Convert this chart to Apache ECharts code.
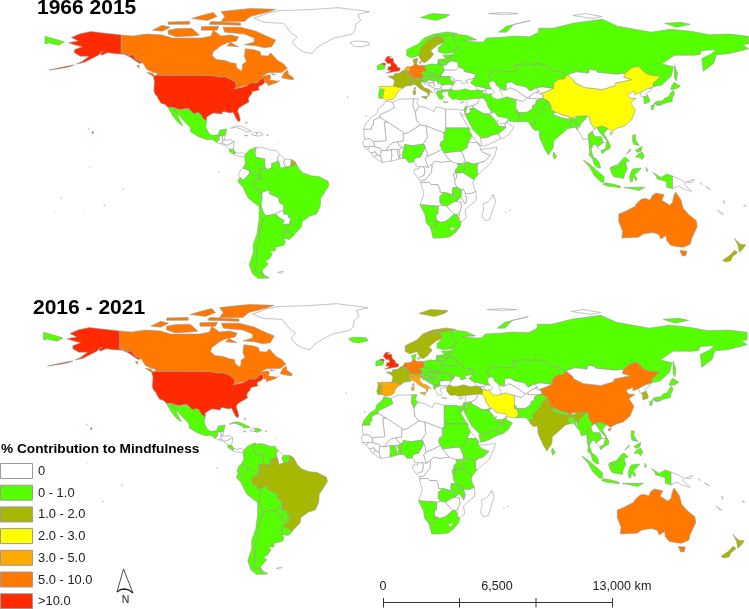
<!DOCTYPE html>
<html><head><meta charset="utf-8">
<style>html,body{margin:0;padding:0;background:#fff}#c{width:749px;height:609px}</style>
<script src="https://cdn.jsdelivr.net/npm/echarts@6/dist/echarts.min.js"></script>
</head><body><div id="c"></div>
<script>
// Contribution classes (class mid-values, %)
const countryNames=["United States","Canada","Mexico","Greenland","Iceland","Guatemala","Belize","Honduras","El Salvador","Nicaragua","Costa Rica","Panama","Cuba","Haiti","Dominican Rep.","Colombia","Venezuela","Guyana","Suriname","French Guiana","Ecuador","Peru","Brazil","Uruguay","Bolivia","Paraguay","Chile","Argentina","Falklands",
"Morocco","Algeria","Tunisia","Libya","Egypt","Sudan","South Sudan","Eritrea","Ethiopia","Somalia","Kenya","Uganda","Tanzania","Rwanda","DR Congo","Angola","Zambia","Malawi","Mozambique","Zimbabwe","Botswana","Namibia","South Africa","Lesotho","Madagascar","Gabon","Congo","Cameroon","CAR","Chad","Niger","Nigeria","Benin","Togo","Ghana","Ivory Coast","Burkina Faso","Mali","Mauritania","Senegal","Guinea","Guinea-Bissau","Sierra Leone","Liberia",
"Turkey","Syria","Israel","Jordan","Iraq","Iran","Saudi Arabia","Yemen","Oman","UAE","Qatar","Kuwait",
"Spain","Portugal","France","Belgium","Netherlands","Germany","Switzerland","Austria","Italy","United Kingdom","Ireland","Denmark","Norway","Sweden","Finland","Russia","Kazakhstan","Uzbekistan","Turkmenistan","Kyrgyzstan","Tajikistan","Afghanistan","Pakistan","India","Nepal","Bangladesh","Sri Lanka","Myanmar","Thailand","Laos","Cambodia","Vietnam","China","Mongolia","North Korea","South Korea","Japan","Philippines","Malaysia","Indonesia","Papua New Guinea","Australia","New Zealand","Poland","Lithuania","Latvia","Estonia","Belarus","Ukraine","Moldova","Romania","Bulgaria","Slovakia","Czechia","Hungary","Slovenia","Croatia","Bosnia","Serbia","Albania","Macedonia","Greece","Cyprus","Georgia","Armenia","Azerbaijan","Small islands"];
const values1966to2015=[15,7,.5,0,0,0,0,0,0,0,.5,0,0,0,0,.5,0,0,0,1.5,0,.5,.5,.5,0,0,.5,.5,0,
0,0,0,0,0,.5,0,0,0,0,.5,.5,0,0,0,0,.5,0,0,0,0,.5,.5,0,0,0,0,0,0,0,0,.5,0,0,0,0,0,0,0,0,0,0,0,0,
.5,0,.5,0,0,.5,.5,0,0,0,0,0,
2.5,.5,1.5,1.5,4,7,1.5,.5,1.5,15,.5,1.5,.5,1.5,.5,.5,.5,0,0,0,0,0,.5,.5,0,.5,.5,0,.5,0,0,.5,2.5,0,0,.5,.5,.5,.5,.5,0,7,1.5,.5,.5,.5,.5,0,0,0,.5,0,.5,.5,.5,.5,0,0,0,0,0,.5,0,0,0,0,0];
const values2016to2021=[15,7,.5,0,.5,0,0,0,0,0,.5,0,.5,0,.5,.5,.5,0,.5,1.5,.5,.5,1.5,.5,.5,.5,.5,.5,0,
.5,0,.5,0,.5,.5,0,0,.5,0,.5,.5,.5,.5,0,0,.5,.5,0,0,0,.5,.5,0,0,0,0,0,0,0,0,.5,.5,0,.5,0,0,0,0,0,0,0,0,0,
1.5,0,.5,.5,0,2.5,.5,.5,.5,.5,.5,.5,
4,1.5,1.5,1.5,7,7,4,.5,4,15,.5,.5,1.5,1.5,.5,.5,.5,0,0,0,0,0,.5,1.5,.5,.5,.5,.5,.5,0,0,.5,7,0,0,1.5,.5,.5,.5,.5,0,7,1.5,.5,.5,.5,.5,.5,.5,.5,.5,0,.5,.5,.5,.5,.5,.5,.5,.5,.5,0,0,0,0,0,0];
const panelTitles=["1966 2015","2016 - 2021"];
const legendTitle="% Contribution to Mindfulness";
const legendLabels=["0","0 - 1.0","1.0 - 2.0","2.0 - 3.0","3.0 - 5.0","5.0 - 10.0",">10.0"];
const legendColors=["#ffffff","#55ff00","#a8b800","#ffff00","#ffaa00","#ff7800","#ff2a00"];
const classBreaks=[0,1,2,3,5,10];
const scaleLabels=["0","6,500","13,000 km"];

// Simplified country outlines, "lon,lat" rings
const outlines={
"United States":["-124.7,48.4 -123,49 -95,49 -94.6,48.7 -92,48.3 -89.5,48 -88.4,48.3 -84.8,46.9 -83.5,46 -82.5,45.3 -82.1,43.6 -82.5,42.6 -83.1,42 -79,42.8 -79,43.3 -76.8,43.6 -75,45 -71.5,45 -70.3,46.2 -69.2,47.4 -67.8,47 -67.5,45.2 -67,44.8 -69,44 -70.5,43.3 -70.8,42.2 -70,41.7 -72,41 -74,40.6 -74.2,39.5 -75.5,38 -76,36.9 -75.6,35.3 -77,34.5 -79,33.4 -81,32 -81.4,30.5 -80.5,28 -80.1,26 -80.8,25.1 -81.8,26 -82.8,28 -83.8,30 -85.5,29.7 -88,30.3 -89.5,30.2 -89.3,29.1 -91,29.3 -93.8,29.7 -95.5,28.8 -97.3,27.5 -97.2,25.9 -99.1,26.4 -99.5,27.5 -101,29.5 -102.5,29.8 -103.2,29 -104.5,29.7 -106.5,31.8 -108.2,31.8 -108.2,31.3 -111,31.3 -114.8,32.5 -117.1,32.5 -118.5,34 -120.6,34.6 -122,36.8 -122.5,38 -123.8,39.5 -124.3,41 -124.2,43 -124,46",
"-141,69.6 -141,60.3 -139,60 -137,59 -135,59.5 -133.5,57 -130,55.3 -131.5,55 -134,56.5 -136,58 -139.5,59.7 -144,60 -148,60.5 -151,59.2 -152,60.8 -150,61.2 -153,59 -156,57.5 -160,55.5 -164,54.7 -161,56 -157.5,58.7 -162,58.7 -165,60.5 -165,62 -161,63.5 -165,64.5 -168,65.6 -163,66.5 -166.5,68.3 -162,70.2 -156.5,71.3 -150,70.5",
"-155.8,19.1 -155,19.6 -155.7,20.2 -156,19.6","-165,54.3 -167,53.4 -172,52.4 -178,51.6 -172,52.9"],
"Canada":["-141,69.6 -135,69 -128,70 -120,69.5 -115,68 -108,68 -100,68 -95,69 -94,72 -90,69 -85,69.5 -81,68.5 -82,66.5 -87,65.5 -90,64 -94,61 -94.5,59 -92.5,57 -88,56.5 -85,55.3 -82.3,55 -82,53 -80,51.2 -79,52 -79,54.5 -77,56 -78,58.7 -77.5,62.5 -73,62 -70,61 -69.5,59 -66,58.8 -64.5,60.3 -61,56.5 -58,54.8 -56,52.5 -59,50.3 -66,50.2 -69,48.5 -65,49.2 -64.5,48 -65,46.5 -61,46 -61,45.3 -66,43.6 -66,45 -67,44.8 -67.5,45.2 -67.8,47 -69.2,47.4 -70.3,46.2 -71.5,45 -75,45 -76.8,43.6 -79,43.3 -79,42.8 -83.1,42 -82.5,42.6 -82.1,43.6 -82.5,45.3 -83.5,46 -84.8,46.9 -88.4,48.3 -89.5,48 -92,48.3 -94.6,48.7 -95,49 -123,49 -122.5,50 -125,50.5 -128,52 -130,55.3 -133.5,57 -135,59.5 -137,59 -139,60 -141,60.3",
"-59,47.7 -55.5,46.9 -53,46.7 -52.8,47.6 -55.5,49.5 -55.8,51.5 -57.5,50.5","-80,73.5 -72,71.5 -68,69.5 -62,67 -64,63.5 -68,63 -72,64 -78,64.5 -73,66 -73,68 -78,70 -88,71 -89,73.5","-117,70 -113,68.7 -105,69 -101,69.5 -105,73 -113,72.8 -117,72","-125,72 -120,71.5 -116,73.5 -120,74.5","-90,76.5 -78,76.5 -75,79 -65,81.5 -62,82.7 -75,83.1 -90,81.5 -88,79","-96,75 -80,74.5 -80,75.7 -95,76.5","-117,75 -106,75 -106,76.5 -117,76.2","-100,72 -92,72 -91,74 -100,73.8","-87,64 -81,63.5 -85,65.7","-105,78 -97,77 -92,79 -94,81 -100,79.5","-128,50.5 -125,48.6 -123.5,48.4 -125,50","-64,49.8 -62,49.2 -64,49.3","-133,54 -131.7,54 -132,52.5"],
"Mexico":["-117.1,32.5 -114.8,32.5 -111,31.3 -108.2,31.3 -108.2,31.8 -106.5,31.8 -104.5,29.7 -103.2,29 -102.5,29.8 -101,29.5 -99.5,27.5 -99.1,26.4 -97.2,25.9 -97.8,22.5 -96,19 -94.5,18.2 -91.5,18.5 -90.5,21 -87,21.5 -87.8,18.3 -89.1,17.9 -91,17.8 -90.8,16 -92.2,14.6 -94.5,16.2 -97,15.9 -101.5,17.5 -105.5,20 -105.5,22 -109,25.7 -112.5,29.5 -114.7,31.6 -113,31 -111.5,27 -110,24 -109.5,23 -112,24.8 -114.5,28"],
"Greenland":["-73,78.2 -68,76 -58,75.5 -54,70.5 -51,68.5 -53.5,66 -51,63 -48,61 -43.5,60 -41,63 -37,65.5 -32,68 -23,70 -21.5,72 -21,75 -18.5,77 -20,80 -14,81.5 -30,83.5 -45,82.5 -60,82 -65,81"],
"Iceland":["-24,65.5 -22,63.9 -18.7,63.4 -14,64.5 -14.8,66 -18,66.3 -22,66.4"],
"Guatemala":["-92.2,14.6 -90.8,16 -91,17.8 -89.1,17.9 -89.2,15.9 -88.2,15.7 -89.3,14.5 -90.5,13.9"],
"Belize":["-89.1,17.9 -87.8,18.3 -88.2,15.9 -89.2,15.9"],
"Honduras":["-89.2,15.9 -88.2,15.7 -85,16 -83.2,15 -85,14 -87,13 -87.8,13.4 -89.3,14.5"],
"El Salvador":["-90.1,13.8 -89.3,14.4 -87.8,13.4 -88.5,13.2"],
"Nicaragua":["-87.5,13 -85,14 -83.2,15 -83.7,11 -85.7,11.1"],
"Costa Rica":["-85.7,11.1 -83.7,11 -82.6,9.6 -83,8.3 -85.7,10"],
"Panama":["-83,8.3 -82.6,9.6 -81,8.9 -79.5,9.6 -77.4,8.7 -77.9,7.2 -80,7.4 -81.5,7.7"],
"Cuba":["-85,21.9 -82.5,23 -80,23 -75,20.7 -74.2,20.2 -77.5,19.9 -78,20.7 -82,22.3"],
"Haiti":["-74.4,18.5 -72,18.1 -71.7,19.7 -73,19.9"],
"Dominican Rep.":["-71.7,19.7 -72,18.1 -71,17.7 -68.4,18.6 -70,19.8"],
"Colombia":["-77.4,8.7 -75.5,10.7 -72,12.2 -71.3,11.7 -72.5,9 -72,7 -67.5,6.2 -67.5,2.5 -67,1.2 -70,1.2 -69.5,-4.2 -70.5,-3.8 -70,-2.5 -73,-2.3 -75.3,-0.1 -78.8,1.4 -77.5,4 -77.9,7.2"],
"Venezuela":["-72,12.2 -71.3,11.7 -68.5,12 -64,10.5 -61.8,10.7 -60.9,9.4 -60,8.5 -61,6.7 -60.7,5.2 -62.8,4 -64,4 -64,1.5 -66.3,0.8 -67,1.2 -67.5,2.5 -67.5,6.2 -72,7 -72.5,9"],
"Guyana":["-60,8.5 -57.2,6 -58,4.5 -57,2 -59.8,1.3 -59.9,3 -60.7,5.2 -61,6.7"],
"Suriname":["-57.2,6 -54,5.9 -54.2,3.5 -54.5,2.3 -57,2 -58,4.5"],
"French Guiana":["-54,5.9 -52,4.7 -51.7,4 -52.7,2.3 -54.5,2.3 -54.2,3.5"],
"Ecuador":["-78.8,1.4 -75.3,-0.1 -75.5,-1.5 -78.5,-4.8 -80.3,-3.4 -81,-2 -80,0.5"],
"Peru":["-75.3,-0.1 -73,-2.3 -70,-2.5 -70.5,-3.8 -69.5,-4.2 -72.8,-5 -73.7,-7.3 -72.9,-9 -70.5,-9.4 -70.6,-11 -69,-11 -69,-15 -69.4,-16 -69.5,-17.5 -70.4,-18.3 -76,-14 -79,-8 -81.3,-5.5 -81,-4.3 -80.3,-3.4 -78.5,-4.8 -75.5,-1.5"],
"Brazil":["-51.7,4 -50,1 -48,-1 -44,-2.5 -40,-2.8 -35.2,-5.3 -34.8,-7.5 -37,-11 -39,-14 -39.2,-18 -41,-22 -44.5,-23.1 -48.5,-26 -48.7,-28.5 -52,-32 -53.4,-33.7 -53.2,-32.5 -57.6,-30.2 -53.7,-27 -54.6,-25.6 -54.3,-24 -55.5,-24 -55.8,-22.3 -58,-22 -57.9,-20 -58,-17.5 -60.2,-16.3 -60.5,-13.8 -65.3,-11.7 -65.4,-9.8 -69,-11 -70.6,-11 -70.5,-9.4 -72.9,-9 -73.7,-7.3 -72.8,-5 -69.5,-4.2 -70,1.2 -67,1.2 -66.3,0.8 -64,1.5 -64,4 -62.8,4 -60.7,5.2 -59.9,3 -59.8,1.3 -57,2 -54.5,2.3 -52.7,2.3"],
"Uruguay":["-57.6,-30.2 -53.2,-32.5 -53.4,-33.7 -54.9,-35 -58,-34.5 -58.4,-33"],
"Bolivia":["-69,-11 -65.4,-9.8 -65.3,-11.7 -60.5,-13.8 -60.2,-16.3 -58,-17.5 -57.9,-20 -58.2,-20.1 -62.3,-22 -64.5,-22.5 -67,-23 -68.5,-21 -69.5,-17.5 -69.4,-16 -69,-15"],
"Paraguay":["-58.2,-20.1 -57.9,-20 -58,-22 -55.8,-22.3 -55.5,-24 -54.3,-24 -54.6,-25.6 -55,-27.3 -58.6,-27.3 -57.7,-25.3 -60,-24 -62.3,-22"],
"Chile":["-69.5,-17.5 -68.5,-21 -67,-23 -68.3,-25 -69.8,-30 -70.5,-33 -70,-36 -71.5,-39 -71.8,-44 -71.8,-48 -72.5,-51.5 -68.4,-52.4 -68.6,-54.8 -71,-55 -74,-52.5 -75.5,-48 -73.5,-42 -73.5,-37.5 -71.5,-32 -70.5,-25 -70.4,-18.3"],
"Argentina":["-67,-23 -64.5,-22.5 -62.3,-22 -60,-24 -57.7,-25.3 -58.6,-27.3 -55,-27.3 -54.6,-25.6 -53.7,-27 -57.6,-30.2 -58.4,-33 -58,-34.5 -57,-36.3 -57.7,-38 -62,-39 -62.3,-41 -65,-41 -63.7,-42.5 -65.3,-45 -67.5,-46 -65.8,-47.5 -69,-51 -68.4,-52.4 -72.5,-51.5 -71.8,-48 -71.8,-44 -71.5,-39 -70,-36 -70.5,-33 -69.8,-30 -68.3,-25","-68.6,-52.7 -65.2,-54.7 -68.6,-54.9"],
"Falklands":["-61,-51.8 -58,-51.3 -59,-52.3"],
"Morocco":["-5.9,35.8 -2.2,35.1 -1.2,32.5 -3.7,31 -8.7,28.7 -8.7,27.3 -12,26 -12,23.4 -13,23 -13,21.3 -17,21.3 -16,24 -13,27.7 -10,29.5 -9.8,31.5 -7,33.8"],
"Algeria":["-2.2,35.1 1,36.7 8.6,36.9 8.2,33 9.5,30.2 10,26 12,23.5 5.8,19.5 3.2,19 3.2,19.8 -4.8,25 -8.7,27.3 -8.7,28.7 -3.7,31 -1.2,32.5"],
"Tunisia":["8.6,36.9 11,37 10.2,34.5 11.5,33.1 10,31 9.5,30.2 8.2,33"],
"Libya":["11.5,33.1 15.3,32.3 19,30.3 20,32.8 25,31.6 25,20 24,19.5 15,23 12,23.5 10,26 9.5,30.2 10,31"],
"Egypt":["25,31.6 31,31.5 32.5,31 34.3,31.3 34.9,29.5 34,28 33,28.5 32.5,30 32.7,29 35.5,24 37,22 25,22"],
"Sudan":["24,20 25,20 25,22 37,22 37.3,20 38.5,18 36.5,14.3 36,12 33,10 31,10 27,9.5 24,9 23,11 22,13 22.5,15 24,15.7 24,19.5"],
"South Sudan":["24,9 27,9.5 31,10 33,10 34,8 35,5 33.5,3.7 31,3.7 28,4.5 24.5,8.5"],
"Eritrea":["36.5,14.3 38.5,18 43,12.7 41,14.5 37.5,14.5"],
"Ethiopia":["36,12 36.5,14.3 37.5,14.5 41,14.5 42.5,12.5 42.8,11 44,9.5 47.9,8 45,5 41.9,4 39,3.5 36,4.5 35,5 34,8 33,10"],
"Somalia":["42.8,11 43.3,11.5 51.2,12 50,8 48,4 41.6,-1.7 41,-0.8 41,3 41.9,4 45,5 47.9,8 44,9.5"],
"Kenya":["34,4.2 36,4.5 39,3.5 41.9,4 41,3 41,-0.8 41.6,-1.7 39.3,-4.6 37.7,-3.5 34,-1 33.9,0.1 35,1.9"],
"Uganda":["31,3.7 33.5,3.7 34,4.2 35,1.9 33.9,0.1 34,-1 30.5,-1 29.6,-1.4 30,1 31.3,2.2"],
"Tanzania":["30.5,-1 34,-1 37.7,-3.5 39.3,-4.6 38.8,-6.5 39.5,-8.5 40.4,-10.5 38,-11.5 34.9,-11.5 34,-9.5 33,-9.5 31,-8.6 29.6,-6.5 29.6,-4.4 30.5,-3.5"],
"Rwanda":["29,-1.4 30.5,-1 30.5,-3.5 29.6,-4.4 29,-2.7"],
"DR Congo":["12.2,-6 13,-4.7 14.5,-4.7 16,-2.7 17.7,-0.5 18,3.5 18.5,3.5 19.5,5.1 22.5,4.5 27.5,5 28,4.5 31,3.7 31.3,2.2 30,1 29.6,-1.4 29,-1.4 29,-2.7 29.6,-4.4 29.6,-6.5 31,-8.6 28.7,-8.5 28.4,-10 28.4,-12.4 29.8,-12.1 29.8,-13.4 27,-11.6 24,-11 22,-11 22,-9.5 21,-7 17.5,-7 16.5,-5.9"],
"Angola":["12.2,-6 16.5,-5.9 17.5,-7 21,-7 22,-9.5 22,-11 24,-11 22,-13 22,-16.3 23.4,-17.6 21,-18 14,-17.4 11.8,-17.3 13.6,-12.5 13.7,-11 13,-9"],
"Zambia":["22,-13 24,-11 27,-11.6 29.8,-13.4 29.8,-12.1 28.4,-12.4 28.4,-10 28.7,-8.5 31,-8.6 33,-9.5 33.2,-10.8 32.7,-13.7 30.3,-15.6 28.9,-16 26,-17.9 23.4,-17.6 22,-16.3"],
"Malawi":["33,-9.5 34,-9.5 35,-11.5 35.8,-14.5 35,-17 33.3,-14.5 32.7,-13.7 33.2,-10.8"],
"Mozambique":["34.9,-11.5 38,-11.5 40.4,-10.5 40.7,-15 37,-18 34.8,-20 35.5,-24 32.9,-26 32,-26 32,-21 33,-19 32.7,-16 30.3,-15.6 32.7,-13.7 33.3,-14.5 35,-17 35.8,-14.5 35,-11.5"],
"Zimbabwe":["26,-17.9 28.9,-16 30.3,-15.6 32.7,-16 33,-19 32,-21 31,-22.3 29.4,-22.2 27.5,-20.5 25.5,-18"],
"Botswana":["21,-18 23.4,-17.6 25.5,-18 27.5,-20.5 29.4,-22.2 26.5,-24.7 25,-25.7 22.7,-26.4 20,-25 20,-22 21,-22"],
"Namibia":["11.8,-17.3 14,-17.4 21,-18 21,-22 20,-22 20,-28.4 17,-28.7 15,-26.5 14.4,-22.5"],
"South Africa":["17,-28.7 20,-28.4 20,-25 22.7,-26.4 25,-25.7 26.5,-24.7 29.4,-22.2 31,-22.3 32,-26 32.9,-26 32.4,-28.5 30,-31.5 27,-33.8 22,-34.3 18.5,-34.3 18,-32"],
"Lesotho":["27,-29.6 28.7,-28.6 29.4,-29.6 28,-30.6"],
"Madagascar":["49.3,-12 50.5,-15.5 47.5,-24.8 45,-25.5 43.5,-23 44.3,-20 44,-17 47,-15.5"],
"Gabon":["9,1 11.3,1 11.3,2.2 13.3,2.2 14.4,1 13.9,-2.4 12,-3 11,-3.9 8.8,-0.8"],
"Congo":["14.4,1 13.3,2.2 16,2 18,3.5 17.7,-0.5 16,-2.7 14.5,-4.7 13,-4.7 12.2,-5 11,-3.9 12,-3 13.9,-2.4"],
"Cameroon":["8.5,4.6 9.7,3.8 9.8,2.2 11.3,2.2 13.3,2.2 16,2 15.2,4 14.5,6 15.5,7.5 15.5,9.5 14.2,12.8 14.2,11.5 13.5,10 11.8,7 10,6.8 8.8,5.8"],
"CAR":["14.5,6 15.2,4 16,2 18,3.5 18.5,3.5 19.5,5.1 22.5,4.5 27.5,5 24.5,8.5 24,9 23,11 19,9 15.5,7.5"],
"Chad":["15,23 24,19.5 24,15.7 22.5,15 22,13 23,11 19,9 15.5,7.5 15.5,9.5 14.2,12.8 13.5,14 15.5,17"],
"Niger":["12,23.5 15,23 15.5,17 13.5,14 14.2,12.8 13.5,13.7 8,12.9 4,13.5 3.6,11.7 2.8,12 1,13.3 0.2,15 3.2,15.3 3.2,19 5.8,19.5"],
"Nigeria":["2.7,6.4 4.5,6.2 6,4.3 8.5,4.6 8.8,5.8 10,6.8 11.8,7 13.5,10 14.2,11.5 14.2,12.8 13.5,13.7 8,12.9 4,13.5 3.6,11.7 2.8,9"],
"Benin":["1.7,6.2 2.7,6.4 2.8,9 3.6,11.7 2.8,12 1,11 1.5,9"],
"Togo":["1.2,6.1 1.7,6.2 1.5,9 1,11 0,11 0.6,8"],
"Ghana":["-3,5 1.2,6.1 0.6,8 0,11 -2.9,11 -2.6,8"],
"Ivory Coast":["-7.5,4.4 -3,5 -2.6,8 -2.9,11 -5.5,10.4 -8,10.5 -8.5,7.6"],
"Burkina Faso":["-5.5,10.4 -2.9,11 0,11 1,11 2.8,12 1,13.3 0.2,15 -2,14.5 -4.5,12.5"],
"Mali":["-12,15 -11.5,12.4 -8.5,11.5 -8,10.5 -5.5,10.4 -4.5,12.5 -2,14.5 0.2,15 3.2,15.3 3.2,19.8 -4.8,25 -6.5,25 -5.5,15.5"],
"Mauritania":["-17,21.3 -13,21.3 -13,23 -12,23.4 -12,26 -8.7,27.3 -4.8,25 -6.5,25 -5.5,15.5 -12,15 -14,16.5 -16.5,16.2"],
"Senegal":["-16.5,16.2 -14,16.5 -12,15 -11.5,12.4 -16.8,12.4 -17.5,14.7"],
"Guinea":["-13.7,12.6 -11.5,12.4 -8.5,11.5 -8,10.5 -8.5,7.6 -10,8.4 -11,9.8 -13.3,9.2 -15,11"],
"Guinea-Bissau":["-16.8,12.4 -13.7,12.6 -15,11"],
"Sierra Leone":["-13.3,9.2 -11,9.8 -10.5,8 -11.5,6.9"],
"Liberia":["-11.5,6.9 -10.5,8 -8.5,7.6 -7.5,4.4"],
"Turkey":["26.2,40 26.7,41.5 28,42 29,41.2 31.5,41.2 35,42 38,41 41.5,41.5 43.5,41 44.7,39.7 44.4,37.2 42.3,37.2 38,36.8 36.2,36.6 35.5,36.6 32.5,36.1 30.6,36.8 28,36.7 26.5,38.5"],
"Syria":["36,36 36.2,36.6 38,36.8 42.3,37.2 41.2,34.5 38.8,33.4 36,32.7 35.7,34.5"],
"Israel":["34.3,31.3 35,33 35.7,33 35.5,31 35,29.5 34.9,29.5"],
"Jordan":["35,29.5 36.5,29.3 38,30.5 37,31.5 39,32.3 38.8,33.4 36,32.7 35.7,33 35.5,31"],
"Iraq":["38.8,33.4 41.2,34.5 42.3,37.2 44.4,37.2 46,35 46.5,33 48,31 48.5,29.9 46.5,29.2 44.5,29.2 39,32.3"],
"Iran":["44.4,37.2 44.7,39.7 48,39.5 49,37.5 51,36.7 54,37 56,38 61,36.5 61,31.5 61.7,31.3 63,27 61.7,25.1 57.3,25.5 56.5,27 51.5,27.9 50,30 48.5,29.9 48,31 46.5,33 46,35"],
"Saudi Arabia":["34.9,29.5 36.5,29.3 38,30.5 37,31.5 39,32.3 44.5,29.2 46.5,29.2 48,28.5 50,26.5 51,24.5 52,23 55.2,22.7 55.7,22 52,19 48.8,18.3 46.8,17.3 43.2,16.7 42.7,16.5 39,21 35.5,27.5"],
"Yemen":["42.7,16.5 43.2,16.7 46.8,17.3 48.8,18.3 52,19 53.1,16.6 48,14 45,12.8 43.5,12.7"],
"Oman":["52,19 55.7,22 55.2,24 56.3,24.9 56.5,26 56.8,24.3 59.8,22.5 57.7,19 55,17 53.1,16.6"],
"UAE":["51.5,24.2 52,23 55.2,22.7 55.7,22 55.2,24 56.3,24.9 54,24.2"],
"Qatar":["51,24.6 51.5,26 51.6,25"],
"Kuwait":["46.5,29.2 48.5,29.9 48,28.5"],
"Spain":["-9.2,43.2 -1.8,43.4 3.2,42.4 0.8,40.8 -0.3,39 -0.7,37.7 -2.1,36.7 -5.4,36.1 -6.4,36.9 -7.4,37.2 -7,39.7 -6.5,41.7 -8.8,41.9"],
"Portugal":["-8.8,41.9 -6.5,41.7 -7,39.7 -7.4,37.2 -9,37 -9.5,38.7"],
"France":["-1.8,43.4 3.2,42.4 4.5,43.4 7.5,43.8 7,45.9 6.1,46.3 7.6,47.6 8.2,49 6.1,49.5 2.5,51.1 1.5,50.1 -1.5,49.6 -1.5,48.6 -4.7,48.4 -2,47 -1.2,46","8.6,42.2 9.4,43 9.5,42 9.2,41.4"],
"Belgium":["2.5,51.1 4.2,51.4 6,50.7 6.1,49.5"],
"Netherlands":["3.4,51.4 4.2,51.4 6,50.7 7,52 7,53.3 5,53.3 4,52"],
"Germany":["7,53.3 8.6,53.9 8.7,54.9 10,54.7 11,54 14.2,53.9 14.7,52 15,51 12.2,50.3 13.8,48.7 13,47.5 9.7,47.5 7.6,47.6 8.2,49 6.1,49.5 6,50.7 7,52"],
"Switzerland":["6.1,46.3 7,45.9 10.4,46.5 9.7,47.5 7.6,47.6"],
"Austria":["9.7,47.5 13,47.5 13.8,48.7 17,48.8 17.2,47.9 16,46.8 12.3,46.8 10.4,46.5"],
"Italy":["7,45.9 7.5,43.8 8.8,44.4 10.3,43.5 12,41.9 14,40.8 15.7,40 16,38 16.5,39 17,40.5 18.4,40 18.5,40.3 16,41.9 14,42.5 12.4,44.3 12.4,45.4 13.7,45.6 13.7,46.5 12.3,46.8 10.4,46.5","12.5,38 15.6,38.2 15.1,36.7","8.2,41 9.7,41 9.5,39.2 8.5,39"],
"United Kingdom":["-5.5,50 1.4,51.2 1.7,52.7 0.3,53 -0.2,54.3 -1.6,55.5 -2,56 -2,57.6 -4,57.6 -3,58.6 -5,58.6 -6.2,56.7 -4.8,55 -3.2,54.9 -3,53.4 -4.5,53.3 -4.5,52.2 -5.2,51.8 -3,51.4","-8,54.5 -6,54 -5.6,54.7 -6.3,55.2 -7.4,55.2"],
"Ireland":["-10,51.7 -6.3,52.2 -6,54 -8,54.5 -7.4,55.2 -10,54"],
"Denmark":["8.7,54.9 10,54.7 10.5,56.5 10.6,57.7 8.2,57","11.2,55.7 12.5,55.9 12,54.9"],
"Norway":["5,59 7,58 8.5,58.2 11,59 12.2,61 12,63 14,64.5 16,67 20,69 25,69 29,69.8 31,70.3 26,71.1 19,70 14,68 11,65 5,62","12,78.5 20,77 25,78.5 27,80 18,80.5"],
"Sweden":["11,59 12.7,56 14.2,55.4 16.5,57 18.8,59.7 17.2,61.5 21,64.5 24,65.8 23.5,68 20.5,69 20,69 16,67 14,64.5 12,63 12.2,61"],
"Finland":["24,65.8 21.3,63 21.3,60.8 25,60 28,60.5 31.5,62.9 29,66.9 29,69.8 25,69 20.5,69 23.5,68"],
"Russia":["28,60.5 30,60 28,59.5 27.5,57.5 28.2,56.2 31,55.5 31.5,53 34,52.3 34.5,50.7 40,49.6 40,47.8 38.2,47.1 39.5,47 37.5,45.3 40,43.5 43.5,42.7 46.5,41.9 48.5,41.8 47.5,43 47,45 49,46.3 47,48 46.8,49.5 48,50.5 51,51.6 55,50.7 59,50.8 61.5,51.3 60,54 66,54.8 71,54.2 71,55.3 76,54 80,51 83,51 87.3,49.2 92,50.7 98,50 98.5,52 102.2,51.3 102.3,50.5 107,50 112,49.5 116.7,49.8 120,52.7 123.5,53.5 127,50 130.5,48.8 135,48.4 131,44.9 131,42.9 132,43.3 135.5,44 140.3,48.5 141.5,53.3 135.5,54.7 142,59.2 152,59.2 155,59.5 156,61.6 163,62 161,60 156,57.5 156.7,51 162,55 163.5,59.5 170,60 179.9,62.5 177,64.7 179.9,65 179.9,68.9 170,70 160,69.7 150,71.5 140,72.5 130,71 113,74 105,77.6 90,75.5 80,73 72.5,73 72.5,71 68,68.6 60,69 55,68.5 46,68 44,66 40,66 34,66.7 41,67 36,69.3 31,69.8 29,69.8 29,66.9 31.5,62.9",
"-180,68.9 -175,67.5 -170,66 -173,64.3 -178,65.5 -180,65","20,54.4 22.7,54.4 21.2,55.2","142,54 143.5,50 143,46 142,47.5 142,50","52,71 56,74 68,76.9 60,75 56,71","137,75.5 143,73.5 150,75 145,76"],
"Kazakhstan":["49,46.3 51,44.5 50.3,44.3 53,42 52.5,41.5 55.9,41.3 56,45 58.5,45.5 61,44 66,43 68,40.8 71,42.3 74,43 80.3,42.2 80.2,45 83,47 85.6,47 87.3,49.2 83,51 80,51 76,54 71,55.3 71,54.2 66,54.8 60,54 61.5,51.3 59,50.8 55,50.7 51,51.6 48,50.5 46.8,49.5 47,48"],
"Uzbekistan":["56,45 58.5,45.5 61,44 66,43 68,40.8 71,42.3 73,40.8 71,40.2 68,38.2 66.5,37.4 64,39 61,41.2 58,42.5 55.9,41.3"],
"Turkmenistan":["52.5,41.5 55.9,41.3 58,42.5 61,41.2 64,39 66.5,37.4 64.5,35.5 61,36.5 56,38 54,37 53.8,39.5"],
"Kyrgyzstan":["71,42.3 74,43 80.3,42.2 76,40.4 73.5,39.5 71,40.2 73,40.8"],
"Tajikistan":["68,38.2 71,40.2 73.5,39.5 75,38.5 74.9,37.2 71.5,36.9 68,37"],
"Afghanistan":["61,36.5 64.5,35.5 66.5,37.4 68,37 71.5,36.9 74.9,37.2 71.3,36 71,34 69.5,33.5 69.3,31.8 66.5,30 66.3,29.8 61,29.8 60.8,31 61,31.5"],
"Pakistan":["61,29.8 66.3,29.8 66.5,30 69.3,31.8 69.5,33.5 71,34 71.3,36 74.9,37.2 77.8,35.5 75,33 74.5,31 71.5,28 70,26.5 71,24.5 68.2,23.7 66.5,25.4 61.7,25.1 63,27 61.7,31.3 61,31.5"],
"India":["68.2,23.7 71,24.5 70,26.5 71.5,28 74.5,31 75,33 77.8,35.5 79,33 78.8,31.2 81,30.2 80,28.8 84,27.4 88.2,26.4 88.2,27.8 89,27 92,26.9 92,28 97,28.2 97,27 94,24 93.2,22 92.2,23.8 91.3,24.2 92,25 89.8,25.5 88.2,25 89,22 87,21.4 85,19.6 80.3,15.5 80,12 77.5,8.1 76,10.5 73,17 72.7,21 70.5,20.7 69,22.2"],
"Nepal":["81,30.2 80,28.8 84,27.4 88.2,26.4 88.2,27.8 85,28.5"],
"Bangladesh":["88.2,25 89.8,25.5 92,25 91.3,24.2 92.2,23.8 92.3,21 91,22.5 89,22"],
"Sri Lanka":["79.8,8 80.2,9.7 81.8,7.5 80.5,6"],
"Myanmar":["92.3,21 93.2,22 94,24 97,27 97,28.2 98.7,27.5 99,24.8 101.2,21.5 100,20.3 97.8,18.5 98.5,14.5 98.7,10.5 97.8,16.5 95,16 94.5,18.2"],
"Thailand":["97.8,18.5 100,20.3 101,17.6 104.7,17.5 105.5,14.4 102.5,12.1 102,13.5 100.5,13.5 99.3,11 100.5,7 102,6.2 100,6.5 98.3,8 98.7,10.5 98.5,14.5"],
"Laos":["101.2,21.5 102.2,22.4 104,19.5 106.5,16.5 107.5,15.5 107.5,14.5 105.5,14.4 104.7,17.5 101,17.6 100,20.3"],
"Cambodia":["102.5,12.1 105.5,14.4 107.5,14.5 106.5,11 104.5,10.4"],
"Vietnam":["102.2,22.4 105,23 108,21.6 105.8,19 107.5,16.3 109.3,13 109,11.5 106.7,10.3 105,8.7 104.5,10.4 106.5,11 107.5,14.5 107.5,15.5 106.5,16.5 104,19.5"],
"China":["73.7,39.5 76,40.4 80.3,42.2 80.2,45 83,47 85.6,47 87.3,49.2 91,46 91,45.2 96,42.7 105,41.6 111.5,43.6 112,45 120,46.7 116,47.8 116.7,49.8 120,52.7 123.5,53.5 127,50 130.5,48.8 135,48.4 131,44.9 131,42.9 130.5,42.5 128,42 124.4,40 121.5,39 121.5,40.8 118,39.2 119,37.3 122.5,37 119.5,35 122,31 120,26 116.5,23 113,22 110,20.3 108,21.6 105,23 102.2,22.4 101.2,21.5 99,24.8 98.7,27.5 97,28.2 92,28 89,27 88.2,27.8 85,28.5 81,30.2 78.8,31.2 79,33 77.8,35.5 74.9,37.2 75,38.5","108.7,19.3 110.5,20 111,19.5 109.5,18.2"],
"Mongolia":["87.3,49.2 92,50.7 98,50 98.5,52 102.2,51.3 102.3,50.5 107,50 112,49.5 116.7,49.8 116,47.8 120,46.7 112,45 111.5,43.6 105,41.6 96,42.7 91,45.2 91,46"],
"North Korea":["124.4,40 128,42 130.5,42.5 129.7,41 127.5,39.5 128.3,38.6 126,37.8 125,38"],
"South Korea":["126,37.8 128.3,38.6 129.4,36 129,35 126.5,34.4 126.5,36"],
"Japan":["131,34 132.5,35.5 136,36 137,37.3 139,38 140,40 141.3,41.3 142,39.5 140.8,37 140.8,35.5 137,34.6 135,33.6 132.5,34.2","130,33.5 131.7,33.5 131,31.3 130.2,31.3","140,41.6 140.5,43.3 141.7,45.4 145,43.4 143,42","132.5,33.8 134.5,34.2 134,33.3"],
"Philippines":["120.5,16 120.7,18.5 122.2,18.4 122,16 124,13 121,13.7","122,7 123.5,8.7 125.5,9.7 126.5,7.5 125.5,5.8 124,7","122,10.5 123.5,11.5 125.5,12.5 125,10.2 123,9.5","117.3,8.5 119.5,11.3 119.6,10.5"],
"Malaysia":["100,6.5 102,6.2 103.4,4.5 104.2,1.5 103,1.6 101,3","109.6,2 111,1 113,1.5 115,3.5 117,4.3 119,5.2 117,7 116,6.8 113,3.2 111,2.6"],
"Indonesia":["95.3,5.6 98,4 103.5,-0.8 106,-3 105.8,-5.8 104.5,-5.8 101,-2.5 98.7,1.8","105.3,-6.8 106.5,-6 110.5,-6.7 114.4,-7.8 114.4,-8.6 108,-7.8","109,1.5 109.6,2 111,1 113,1.5 115,3.5 117,4.3 117.8,1 116.5,-1.5 116,-4 114.5,-3.5 111,-3 110,-1.5","119.5,-5.5 120.4,-5.5 120.9,-3 122.3,-5 123,-4 121.5,-1.9 123,-0.9 125,1.5 120.5,1 119.8,-0.5 119,-3","116,-8.5 119,-8.3 123,-8.3 127,-8.4 124,-10 119,-9","127.5,1.9 128.5,0.3 127.7,-0.5","131,-0.8 135,-3.3 138,-1.6 141,-2.6 141,-9.1 138,-8.3 138,-5.5 133,-4 132.8,-2.8"],
"Papua New Guinea":["141,-2.6 145,-4.3 147.8,-6 147,-7 150.8,-10.4 147,-9.5 144,-7.7 141,-9.1","148.3,-5.7 152,-4.2 151,-6"],
"Australia":["113.5,-22 114.2,-21.8 117,-20.6 122,-18 122.3,-17 125,-14.5 127,-14 129.5,-14.9 130.8,-12.4 132.5,-11.3 136.7,-12.2 135.5,-15 139.5,-17.5 141,-16 141.7,-12.5 142.6,-10.8 145.4,-15 146.3,-19 149.5,-22.5 153.2,-25.5 153.6,-28.5 151,-34 150,-37.5 146.5,-39 143.5,-38.8 140,-38 138,-35.6 137.7,-33 135,-34.8 134,-32.5 131,-31.5 126,-32.3 123.5,-33.9 120,-34 115,-34.3 115.5,-31 113.5,-26","144.7,-40.7 148.3,-41 147.8,-43.2 146,-43.5"],
"New Zealand":["172.7,-34.5 174.5,-36.5 176,-37.6 178.5,-37.7 176.8,-40 175.2,-41.6 174.8,-39.8 174.5,-38","172.7,-40.6 174.3,-41.7 171.5,-44 170.8,-45.9 168.5,-46.6 166.5,-45.8 170.5,-43"],
"Poland":["14.2,53.9 18,54.8 19.7,54.4 22.7,54.4 23.5,54 23.9,52.5 24,51.7 24,50.8 22.7,49.2 19,49.4 17,50.3 15,51 14.7,52"],
"Lithuania":["21,56 21,55.3 22.7,54.4 23.5,54 25.5,54.3 26.6,55.7 25,56.3"],
"Latvia":["21,57 21,56 25,56.3 26.6,55.7 28.2,56.2 27.5,57.5 25,58 24.3,57.2 23,57.2"],
"Estonia":["23.5,59.2 28,59.5 27.5,57.5 25,58 24.3,58.3"],
"Belarus":["23.5,54 25.5,54.3 26.6,55.7 28.2,56.2 31,55.5 31.5,53 30,51.5 24,51.7 23.9,52.5"],
"Ukraine":["24,50.8 24,51.7 30,51.5 31.5,53 34,52.3 34.5,50.7 40,49.6 40,47.8 38.2,47.1 35,46.2 36.5,45.3 33.5,44.5 33,46 30.7,46.5 29.7,45.3 28.2,45.5 29.8,46.4 28,48 26.6,48.3 22.7,48.2 22.7,49.2"],
"Moldova":["26.6,48.3 28,48 29.8,46.4 28.2,45.5"],
"Romania":["20.3,46.1 22.7,48.2 26.6,48.3 28.2,45.5 29.7,45.2 28.6,43.8 27,44.2 22.7,43.9 22.5,44.6 21,44.7"],
"Bulgaria":["22.7,43.9 27,44.2 28.6,43.8 27.6,42.3 28,42 26.7,41.5 24,41.4 23,41.4 22.5,42.4"],
"Slovakia":["17,48.8 19,49.4 22.7,49.2 22.7,48.2 20,48.1 17.2,47.9"],
"Czechia":["12.2,50.3 15,51 17,50.3 19,49.4 17,48.8 13.8,48.7"],
"Hungary":["16,46.8 17.2,47.9 20,48.1 22.7,48.2 20.3,46.1 18.8,45.9 16.5,46.5"],
"Slovenia":["13.7,45.6 13.7,46.5 16,46.8 16.5,46.5 15.3,45.5"],
"Croatia":["13.6,45 15.3,45.5 16.5,46.5 18.8,45.9 19,45 16,45.2 17.5,43 15,44.5"],
"Bosnia":["16,45.2 19,45 19.3,43.5 18.5,42.5 17.5,43"],
"Serbia":["18.8,45.9 20.3,46.1 21,44.7 22.5,44.6 22.7,43.9 22.5,42.4 20.6,41.9 19.3,42 18.5,42.5 19.3,43.5 19,45"],
"Albania":["19.3,42 20.6,41.9 21,40.6 20,39.7 19.4,40.6"],
"Macedonia":["20.6,41.9 22.5,42.4 23,41.4 21,40.9"],
"Greece":["20,39.7 21,40.6 21,40.9 23,41.4 24,41.4 26.7,41.5 26,40.8 23,40.2 23,39 24,38 23,36.5 21.5,36.9 21,38.3","23.6,35.5 26.2,35.2 24.5,34.9"],
"Cyprus":["32.4,34.9 34.5,35.6 33.5,34.7"],
"Georgia":["40,43.5 43.5,42.7 46.5,41.9 45,41.2 43.5,41 41.5,41.5"],
"Armenia":["43.5,41 45,41.2 46.5,39 44.7,39.7"],
"Azerbaijan":["45,41.2 46.5,41.9 48.5,41.8 50,40.4 49,39.5 48,39.5 46.5,39"],
"Small islands":["164,-20 167,-22.2 166,-21.8","177.3,-17.5 178.6,-17.8 178,-18.2","155,-6 156,-7 155.5,-6.4","158,-8 160.5,-9.6 159.5,-9","167,-15 167.5,-16.5 167,-16","49,-12.5 49.3,-12.8 49,-13","57.4,-20 57.8,-20.4 57.3,-20.4","55.3,-21 55.8,-21.3 55.3,-21.3","-16,28.1 -15.4,28.1 -15.6,27.8","-25.5,37.8 -25,37.8 -25.3,37.7","-172,-13.7 -171.5,-14 -172.3,-14","-150,-17.5 -149.3,-17.7 -149.7,-17.9","-140,-9 -139.5,-9.5 -140,-9.6","-159.8,-21.2 -159.6,-21.3 -159.9,-21.4","-175.3,-21 -175,-21.3 -175.3,-21.3","-157.5,1.9 -157.2,1.7 -157.6,1.6","-91,-0.4 -90.5,-0.8 -91.4,-1","-61,14 -60.7,13.7 -61,13.6","-66.5,18.5 -65.7,18.4 -66.5,18","-78,18.4 -76.3,18 -77.5,17.9","-77.5,25 -76.5,25 -77,24","-157.5,21.5 -157.9,21.4 -158,21.6","-60,46.5 -59.5,46 -60.5,45.7","-16,66 -15.8,66 -15.9,65.9","90,79.5 96,80.5 105,79 100,78","47,80.5 55,81 62,80.5 55,80"]
};

const toRing=s=>s.trim().split(/\s+/).map(p=>p.split(',').map(Number));
const buildMap=()=>({type:'FeatureCollection',features:countryNames.map(name=>({type:'Feature',properties:{name},
  geometry:{type:'MultiPolygon',coordinates:outlines[name].map(r=>[toRing(r).concat([toRing(r)[0]])])}}))});

const chart=echarts.init(document.getElementById('c'),null,{renderer:'canvas'});
// One registered map per panel: map series sharing a map name get merged and summed.
echarts.registerMap('world1966',buildMap());
echarts.registerMap('world2016',buildMap());

const classColor=v=>{let k=0;while(k<classBreaks.length&&v>classBreaks[k])k++;return legendColors[k];};
const toData=vals=>countryNames.map((name,i)=>({name,value:vals[i],itemStyle:{areaColor:classColor(vals[i])}}));
const mapSeries=(mapName,vals,left,top)=>({type:'map',map:mapName,silent:true,roam:false,
  left,top,width:703.8,height:351.9,aspectScale:1,
  boundingCoords:[[-180,90],[180,-90]],
  label:{show:false},emphasis:{disabled:true},select:{disabled:true},
  itemStyle:{areaColor:'#fff',borderColor:'#9a9a9a',borderWidth:0.6},
  data:toData(vals)});

const font='"Liberation Sans",Arial,sans-serif';
const graphic=[];
const txt=(x,y,text,size,weight,align,fill)=>graphic.push({type:'text',x,y,silent:true,z:20,
  style:{text,fontFamily:font,fontSize:size,fontWeight:weight||'normal',fill:fill||'#000',align:align||'left',verticalAlign:'middle'}});
const ln=(x1,y1,x2,y2,w,c)=>graphic.push({type:'line',silent:true,z:20,shape:{x1,y1,x2,y2},style:{stroke:c||'#333',lineWidth:w||1}});

txt(37,8,panelTitles[0],21,'bold');
txt(33,308,panelTitles[1],21,'bold');
txt(1,449.5,legendTitle,13.7,'bold');
legendLabels.forEach((lab,i)=>{
  const y=463.5+i*21.7;
  graphic.push({type:'rect',silent:true,z:20,shape:{x:0.5,y,width:32,height:15},style:{fill:legendColors[i],stroke:'#9a9a9a',lineWidth:1}});
  txt(38,y+8,lab,12.9,'normal','left','#222');
});
// scale bar
const barY=602.5, barX=[383,459,535.5,612];
ln(barX[0],barY,barX[3],barY,1);
barX.forEach(x=>ln(x+.5,barY-4.5,x+.5,barY+5,1));
txt(383,587,scaleLabels[0],12.6,'normal','center','#222');
txt(497,587,scaleLabels[1],12.6,'normal','center','#222');
txt(622,587,scaleLabels[2],12.6,'normal','center','#222');
// north arrow
graphic.push({type:'polyline',silent:true,z:20,shape:{points:[[117,592],[123.5,569],[133,593]]},style:{fill:'none',stroke:'#222',lineWidth:.8}});
graphic.push({type:'polyline',silent:true,z:20,shape:{points:[[117,592],[121,589.5],[125,589],[129,590],[133,593]]},style:{fill:'none',stroke:'#222',lineWidth:1.3}});
txt(125.5,600,'N',10.5,'normal','center','#222');

chart.setOption({animation:false,backgroundColor:'#fff',
  series:[mapSeries('world1966',values1966to2015,45,-5),mapSeries('world2016',values2016to2021,43.5,291)],
  graphic:{elements:graphic}
});
</script></body></html>
